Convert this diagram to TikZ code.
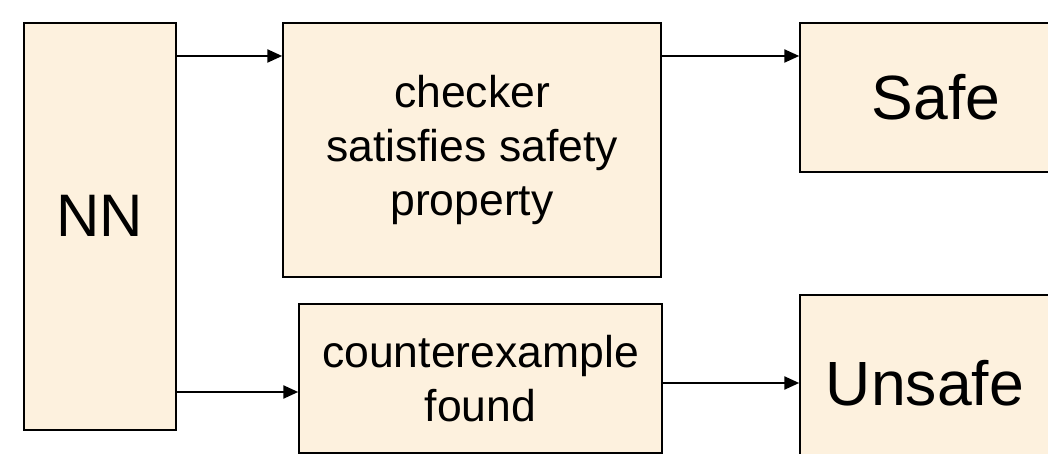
\documentclass[tikz,border=0pt]{standalone}
\usepackage{fontspec}
\setmainfont{Liberation Sans}
\usetikzlibrary{arrows.meta}
\definecolor{boxfill}{RGB}{253,241,222}
\tikzset{
  block/.style={draw=black, line width=1.5pt, fill=boxfill, rectangle, inner sep=0pt, align=center},
  arr/.style={line width=2.4pt, -{Triangle[length=15pt,width=13pt]}},
  midtext/.style={font=\fontsize{44.5}{54}\selectfont},
  bigtext/.style={font=\fontsize{62.5}{70}\selectfont}
}
\begin{document}
\begin{tikzpicture}[x=1pt,y=1pt]
\useasboundingbox (0,0) rectangle (1048,454);
\begin{scope}
\clip (0,0) rectangle (1048,454);
% left block: the network
\node[block, font=\fontsize{60}{70}\selectfont, text depth=21pt,
      minimum width=152pt, minimum height=407pt] (nn) at (100,227.5) {NN};
% checking stage and its outcomes
\node[block, midtext, minimum width=378pt, minimum height=254pt] (chk) at (472,304)
  {checker\\satisfies safety\\property};
\node[block, bigtext, minimum width=272pt, minimum height=149pt] (safe) at (936,356.5) {Safe};
\node[block, midtext, minimum width=363pt, minimum height=149pt] (cex) at (480.5,75.5)
  {counterexample\\found};
\node[block, bigtext, minimum width=250pt, minimum height=177pt] (unsafe) at (925,70.5) {Unsafe};
% connectors
\draw[arr] (nn.east |- 0,398) -- (chk.west |- 0,398);
\draw[arr] (chk.east |- 0,398) -- (safe.west |- 0,398);
\draw[arr] (nn.east |- 0,62) -- (cex.west |- 0,62);
\draw[arr] (cex.east |- 0,71) -- (unsafe.west |- 0,71);
\end{scope}
\end{tikzpicture}
\end{document}
